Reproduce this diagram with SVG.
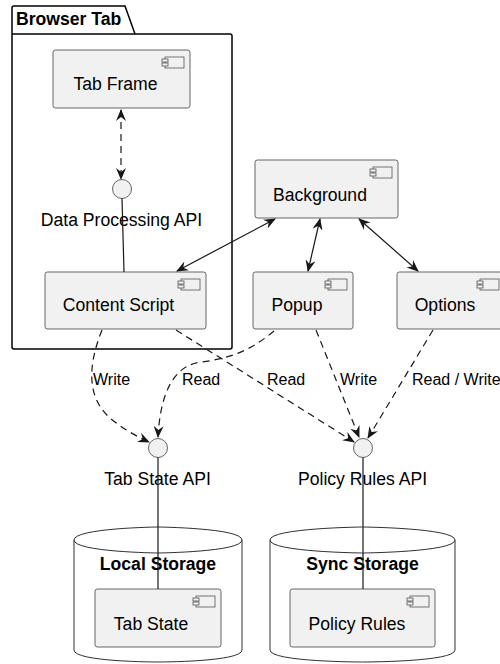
<svg xmlns="http://www.w3.org/2000/svg" width="500" height="664" viewBox="0 0 500 664">
<style>
text{font-family:"Liberation Sans",Arial,sans-serif;fill:#000}
.lbl{font-size:17.6px}
.el{font-size:16px}
.bold{font-weight:bold;font-size:17.6px}
.box{fill:#F1F1F1;stroke:#555;stroke-width:0.9}
.ico{fill:#F1F1F1;stroke:#555;stroke-width:0.8}
.iface{fill:#F1F1F1;stroke:#555;stroke-width:0.9}
.db{fill:#FFFFFF;stroke:#181818;stroke-width:0.9}
.c{fill:none;stroke:#181818;stroke-width:1.2}
.d{fill:none;stroke:#181818;stroke-width:1.2;stroke-dasharray:7,5}
</style>
<defs>
<marker id="ah" viewBox="0 0 12 10" refX="11" refY="5" markerWidth="12" markerHeight="10" markerUnits="userSpaceOnUse" orient="auto-start-reverse">
<path d="M0,0 L12,5 L0,10 L4,5 Z" fill="#181818"/>
</marker>
<symbol id="icon" overflow="visible">
<rect x="3" y="0" width="19" height="11" class="ico"/>
<rect x="0" y="2" width="6" height="3" class="ico"/>
<rect x="0" y="6" width="6" height="3" class="ico"/>
</symbol>
</defs>
<rect width="500" height="664" fill="#FFFFFF"/>

<g id="pkg-browser-tab">
<path d="M12,34 L12,8 Q12,6 14,6 L125,6 L135,34 L230,34 Q232,34 232,36 L232,347 Q232,349 230,349 L14,349 Q12,349 12,347 Z" fill="none" stroke="#000" stroke-width="1.5"/>
<line x1="12" y1="34" x2="135" y2="34" stroke="#000" stroke-width="1.5"/>
<text x="16" y="25" class="bold">Browser Tab</text>
</g>

<g id="db-local-storage">
<path class="db" d="M74,540 C74,528 158,527 158,527 C158,527 242,528 242,540 L242,650 C242,662 158,662 158,662 C158,662 74,662 74,650 Z"/>
<path class="db" fill="none" d="M74,540 C74,552 158,553 158,553 C158,553 242,552 242,540"/>
<text x="158" y="570" class="bold" text-anchor="middle">Local Storage</text>
</g>

<g id="db-sync-storage">
<path class="db" d="M270,540 C270,528 362.5,527 362.5,527 C362.5,527 455,528 455,540 L455,650 C455,662 362.5,662 362.5,662 C362.5,662 270,662 270,650 Z"/>
<path class="db" fill="none" d="M270,540 C270,552 362.5,553 362.5,553 C362.5,553 455,552 455,540"/>
<text x="362.5" y="570" class="bold" text-anchor="middle">Sync Storage</text>
</g>

<g id="tab-frame">
<rect x="53" y="50" width="137" height="58" rx="2.5" class="box"/>
<use href="#icon" x="162" y="57"/>
<text x="115.5" y="90" class="lbl" text-anchor="middle">Tab Frame</text>
</g>

<g id="data-processing-api">
<circle cx="122" cy="189" r="9.5" class="iface"/>
<text x="121.5" y="226" class="lbl" text-anchor="middle">Data Processing API</text>
</g>

<g id="content-script">
<rect x="45" y="272" width="161" height="57" rx="2.5" class="box"/>
<use href="#icon" x="178" y="279"/>
<text x="118.5" y="311" class="lbl" text-anchor="middle">Content Script</text>
</g>

<g id="background">
<rect x="255" y="160" width="143" height="58" rx="2.5" class="box"/>
<use href="#icon" x="370" y="167"/>
<text x="320" y="201" class="lbl" text-anchor="middle">Background</text>
</g>

<g id="popup">
<rect x="253" y="272" width="100" height="57" rx="2.5" class="box"/>
<use href="#icon" x="325" y="279"/>
<text x="297" y="311" class="lbl" text-anchor="middle">Popup</text>
</g>

<g id="options">
<rect x="397" y="272" width="108" height="57" rx="2.5" class="box"/>
<use href="#icon" x="477" y="279"/>
<text x="445" y="311" class="lbl" text-anchor="middle">Options</text>
</g>

<g id="tab-state-api">
<circle cx="158" cy="448" r="9.5" class="iface"/>
<text x="157.5" y="485" class="lbl" text-anchor="middle">Tab State API</text>
</g>

<g id="policy-rules-api">
<circle cx="363" cy="448" r="9.5" class="iface"/>
<text x="362.5" y="485" class="lbl" text-anchor="middle">Policy Rules API</text>
</g>

<g id="tab-state">
<rect x="95" y="589" width="126" height="58" rx="2.5" class="box"/>
<use href="#icon" x="193" y="596"/>
<text x="151" y="630" class="lbl" text-anchor="middle">Tab State</text>
</g>

<g id="policy-rules">
<rect x="290" y="589" width="145" height="58" rx="2.5" class="box"/>
<use href="#icon" x="407" y="596"/>
<text x="357" y="630" class="lbl" text-anchor="middle">Policy Rules</text>
</g>

<g id="connectors">
<path class="d" d="M121,110 L121,179" marker-start="url(#ah)" marker-end="url(#ah)"/>
<path class="c" d="M122,198.5 L124,272"/>
<path class="c" d="M275,219 L177,271" marker-start="url(#ah)" marker-end="url(#ah)"/>
<path class="c" d="M320,219 L308,271" marker-start="url(#ah)" marker-end="url(#ah)"/>
<path class="c" d="M359,219 L418,271" marker-start="url(#ah)" marker-end="url(#ah)"/>
<path class="d" d="M102,330 C90,360 84,395 110,418 C123,429 136,436 149,442" marker-end="url(#ah)"/>
<path class="d" d="M274,331 C256,346 236,358 201,362 C170,366 160,400 158,437" marker-end="url(#ah)"/>
<path class="d" d="M176,330 L354,442" marker-end="url(#ah)"/>
<path class="d" d="M316,330 L359,437" marker-end="url(#ah)"/>
<path class="d" d="M433,330 L368,438" marker-end="url(#ah)"/>
<path class="c" d="M158,457.5 L158,589"/>
<path class="c" d="M363,457.5 L363,589"/>
<text x="93" y="385" class="el">Write</text>
<text x="182" y="385" class="el">Read</text>
<text x="267" y="385" class="el">Read</text>
<text x="340" y="385" class="el">Write</text>
<text x="412" y="385" class="el">Read / Write</text>
</g>
</svg>
